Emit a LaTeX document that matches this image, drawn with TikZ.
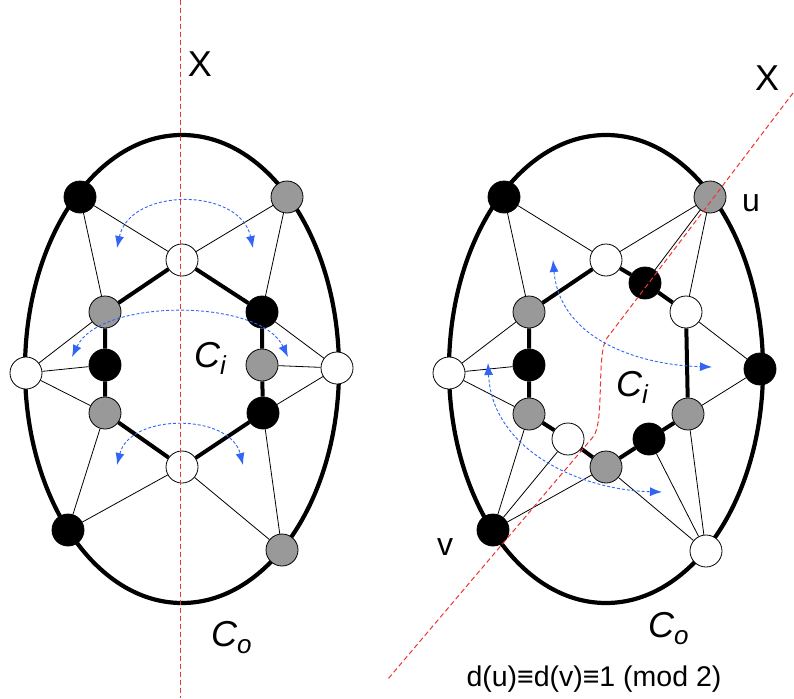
\documentclass[tikz,border=0pt]{standalone}
\usepackage{fontspec}
\setmainfont{Liberation Sans}
\usetikzlibrary{arrows.meta}
\definecolor{gr}{RGB}{153,153,153}
\definecolor{rd}{RGB}{240,50,50}
\definecolor{bl}{RGB}{50,100,245}
\begin{document}
\begin{tikzpicture}[x=1pt,y=-1pt,
  vtx/.style={circle,draw=black,line width=0.8pt,minimum size=32pt,inner sep=0pt},
  wv/.style={vtx,fill=white}, bv/.style={vtx,fill=black}, gv/.style={vtx,fill=gr},
  ethin/.style={line width=0.8pt},
  ethick/.style={line width=4pt},
  outer/.style={line width=4.2pt},
  reddash/.style={draw=rd,line width=1pt,dash pattern=on 5pt off 3pt},
  bluearr/.style={draw=bl,line width=0.9pt,dash pattern=on 3pt off 2pt,
     arrows={Latex[length=12pt,width=9pt]-Latex[length=12pt,width=9pt]}},
  lbl/.style={inner sep=0pt,font=\fontsize{36}{36}\selectfont},
  sml/.style={inner sep=0pt,font=\fontsize{32}{32}\selectfont}
]
\useasboundingbox (0,0) rectangle (794,698);
% outer cycles
\draw[outer] (182,369) ellipse [x radius=157pt, y radius=234pt];
\draw[outer] (606,369) ellipse [x radius=157pt, y radius=234pt];
% ---------------- left graph
\node[bv] (LTL) at (80,197) {};
\node[gv] (LTR) at (287,197) {};
\node[wv] (LT) at (182,260) {};
\node[gv] (LUL) at (105,312) {};
\node[bv] (LUR) at (262,312) {};
\node[bv] (LML) at (105,365) {};
\node[gv] (LMR) at (262,365) {};
\node[gv] (LLL) at (105,413) {};
\node[bv] (LLR) at (263,413) {};
\node[wv] (LB) at (182,467) {};
\node[wv] (LW) at (26,373) {};
\node[wv] (LE) at (337,368) {};
\node[bv] (LBL) at (68,530) {};
\node[gv] (LBR) at (282,550) {};
\draw[ethin] (LTL) -- (LT) (LTL) -- (LUL) (LTR) -- (LT) (LTR) -- (LUR)
  (LW) -- (LUL) (LW) -- (LML) (LW) -- (LLL)
  (LE) -- (LUR) (LE) -- (LMR) (LE) -- (LLR)
  (LBL) -- (LLL) (LBL) -- (LB) (LBR) -- (LB) (LBR) -- (LLR);
\draw[ethick] (LT) -- (LUL) (LUL) -- (LML) (LML) -- (LLL) (LLL) -- (LB)
  (LB) -- (LLR) (LLR) -- (LMR) (LMR) -- (LUR) (LUR) -- (LT);
% ---------------- right graph
\node[bv] (RTL) at (504,197) {};
\node[gv] (RU) at (710,197) {};
\node[wv] (RT) at (606,260) {};
\node[bv] (RH1) at (645,283) {};
\node[wv] (RH2) at (686,312) {};
\node[gv] (RUL) at (529,312) {};
\node[bv] (RML) at (529,365) {};
\node[wv] (RW) at (449,373) {};
\node[bv] (RE) at (760,369) {};
\node[gv] (RLL) at (529,414) {};
\node[gv] (RLR) at (688,414) {};
\node[wv] (RH3) at (568,439) {};
\node[bv] (RH4) at (649,439) {};
\node[gv] (RB) at (606,467) {};
\node[bv] (RV) at (493,530) {};
\node[wv] (RBR) at (706,551) {};
\draw[ethin] (RTL) -- (RT) (RTL) -- (RUL) (RU) -- (RT) (RU) -- (RH1) (RU) -- (RH2)
  (RW) -- (RUL) (RW) -- (RML) (RW) -- (RLL)
  (RE) -- (RH2) (RE) -- (RLR)
  (RV) -- (RLL) (RV) -- (RH3) (RV) -- (RB)
  (RBR) -- (RB) (RBR) -- (RH4) (RBR) -- (RLR);
\draw[ethick] (RT) -- (RUL) (RUL) -- (RML) (RML) -- (RLL) (RLL) -- (RH3)
  (RH3) -- (RB) (RB) -- (RH4) (RH4) -- (RLR) (RLR) -- (RH2) (RH2) -- (RH1) (RH1) -- (RT);
% ---------------- red lines
\draw[reddash] (180,0) -- (180,698);
\draw[reddash] (793,93) -- (607,338) .. controls (596,352) and (605,423) .. (593,437) -- (388,679);
% ---------------- blue arrows
\draw[bluearr] (117,248) .. controls (130,187) and (240,187) .. (253,248);
\draw[bluearr] (72,357) .. controls (100,298) and (260,298) .. (288,357);
\draw[bluearr] (117,465) .. controls (130,413) and (230,413) .. (243,465);
\draw[bluearr] (553,260) .. controls (560,340) and (640,365) .. (712,367);
\draw[bluearr] (488,363) .. controls (492,450) and (580,490) .. (662,492);
% ---------------- labels
\node[lbl] (XL) at (200,64) {X};
\node[lbl] (XR) at (767,78) {X};
\node[lbl,anchor=base west] (CiL) at (194,367) {\itshape C\raisebox{-7pt}{\fontsize{26}{26}\selectfont i}};
\node[lbl,anchor=base west] (CiR) at (616,396) {\itshape C\raisebox{-7pt}{\fontsize{26}{26}\selectfont i}};
\node[lbl,anchor=base west] (CoL) at (211,646) {\itshape C\raisebox{-7pt}{\fontsize{26}{26}\selectfont o}};
\node[lbl,anchor=base west] (CoR) at (648,637) {\itshape C\raisebox{-7pt}{\fontsize{26}{26}\selectfont o}};
\node[sml] (ul) at (751,203) {u};
\node[sml] (vl) at (445,547) {v};
\node[inner sep=0pt,font=\fontsize{28.5}{28.5}\selectfont] (eq) at (594,679) {d(u)≡d(v)≡1 (mod 2)};
\end{tikzpicture}
\end{document}
